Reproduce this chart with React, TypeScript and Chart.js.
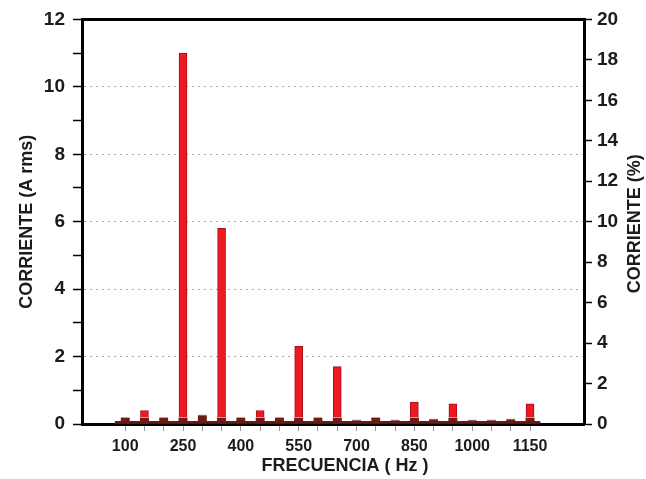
import React, { useEffect, useRef } from 'react';
import { Chart, registerables } from 'chart.js';

Chart.register(...registerables);

// Frequencies (Hz) of each harmonic position on the axis
const FREQS = [100, 150, 200, 250, 300, 350, 400, 450, 500, 550, 600, 650, 700, 750, 800, 850, 900, 950, 1000, 1050, 1100, 1150];
// Harmonic current (A rms) – red bars
const CURRENT_A = [null, 0.4, null, 11.0, null, 5.8, null, 0.4, null, 2.3, null, 1.7, null, null, null, 0.65, null, 0.6, null, null, null, 0.6];
// Small dark base blocks at each position (A rms)
const BASE_A = [0.2, 0.2, 0.2, 0.2, 0.27, 0.2, 0.2, 0.2, 0.2, 0.2, 0.2, 0.2, 0.12, 0.2, 0.12, 0.2, 0.15, 0.2, 0.12, 0.12, 0.15, 0.2];
// Floor band along the axis (A rms)
const FLOOR_A = [0.08, 0.08, 0.08, 0.08, 0.08, 0.08, 0.08, 0.08, 0.08, 0.08, 0.08, 0.08, 0.08, 0.08, 0.08, 0.08, 0.08, 0.08, 0.08, 0.08, 0.08, 0.08];
// Labelled x ticks
const X_LABELS = [100, 250, 400, 550, 700, 850, 1000, 1150];
const LEFT_LABELS = [0, 2, 4, 6, 8, 10, 12];

const FONT = '"Liberation Sans", Arial, sans-serif';
const TEXT = '#1c1c1c';

const titlesPlugin = {
  id: 'customTitles',
  afterDraw(chart: any) {
    const { ctx, chartArea } = chart;
    ctx.save();
    ctx.fillStyle = TEXT;
    ctx.font = `bold 18px ${FONT}`;
    ctx.textAlign = 'center';
    ctx.textBaseline = 'middle';
    // x title
    ctx.fillText('FRECUENCIA ( Hz )', (chartArea.left + chartArea.right) / 2 + 12, chartArea.bottom + 42);
    // right title, reading bottom-to-top
    ctx.translate(chart.width - 11, (chartArea.top + chartArea.bottom) / 2 + 2);
    ctx.rotate(-Math.PI / 2);
    ctx.fillText('CORRIENTE (%)', 0, 0);
    ctx.restore();
  },
};

export default function App() {
  const ref = useRef<HTMLCanvasElement>(null);

  useEffect(() => {
    if (!ref.current) return;
    const toPts = (arr: (number | null)[]) => FREQS.map((f, i) => ({ x: f, y: arr[i] }));
    const chart = new Chart(ref.current, {
      type: 'bar',
      data: {
        datasets: [
          {
            label: 'floor',
            data: toPts(FLOOR_A) as any,
            backgroundColor: '#6a1a14',
            borderWidth: 0,
            barThickness: 20,
            grouped: false,
            order: 0,
          },
          {
            label: 'base',
            data: toPts(BASE_A) as any,
            backgroundColor: '#6e1c16',
            borderColor: '#b8a6a6',
            borderWidth: { top: 1, left: 0, right: 0, bottom: 0 } as any,
            borderSkipped: 'bottom',
            barThickness: 9,
            grouped: false,
            order: 1,
          },
          {
            label: 'Corriente',
            data: toPts(CURRENT_A) as any,
            backgroundColor: '#ec1822',
            borderColor: '#a8101a',
            borderWidth: 1,
            barThickness: 8,
            grouped: false,
            order: 2,
          },
        ],
      },
      options: {
        responsive: false,
        animation: false,
        layout: { padding: 0 },
        plugins: { legend: { display: false }, tooltip: { enabled: false } },
        scales: {
          x: {
            type: 'linear',
            position: 'bottom',
            min: -12,
            max: 1290,
            offset: false,
            afterBuildTicks: (scale: any) => {
              scale.ticks = FREQS.map((v) => ({ value: v }));
            },
            afterFit: (scale: any) => {
              scale.height = 55;
            },
            ticks: {
              autoSkip: false,
              maxRotation: 0,
              minRotation: 0,
              padding: 6,
              color: TEXT,
              font: { family: FONT, size: 16, weight: 'bold' },
              callback: (v: any) => (X_LABELS.includes(Number(v)) ? String(v) : ''),
            },
            grid: {
              offset: false,
              drawOnChartArea: false,
              drawTicks: true,
              tickLength: 7,
              color: '#9a9a9a',
              lineWidth: 1,
            },
            border: { display: true, color: '#000', width: 3 },
          },
          xTop: {
            type: 'linear',
            position: 'top',
            min: -12,
            max: 1290,
            afterFit: (scale: any) => {
              scale.height = 17;
            },
            ticks: { display: false },
            grid: { display: false, drawTicks: false },
            border: { display: true, color: '#000', width: 3 },
          },
          y: {
            type: 'linear',
            position: 'left',
            min: 0,
            max: 12,
            afterFit: (scale: any) => {
              scale.width = 82;
            },
            ticks: {
              stepSize: 1,
              padding: 8,
              color: TEXT,
              font: { family: FONT, size: 19, weight: 'bold' },
              callback: (v: any) => (LEFT_LABELS.includes(Number(v)) ? String(v) : ''),
            },
            grid: {
              drawTicks: true,
              tickLength: 9,
              tickColor: '#000',
              tickWidth: 1.5,
              lineWidth: 1,
              color: (ctx: any) => {
                const v = ctx.tick ? ctx.tick.value : 0;
                return v > 0 && v < 12 && v % 2 === 0 ? 'rgba(150,130,160,0.75)' : 'rgba(0,0,0,0)';
              },
            },
            border: { display: true, color: '#000', width: 3, dash: [2, 4] },
            title: {
              display: true,
              text: 'CORRIENTE (A rms)',
              color: TEXT,
              font: { family: FONT, size: 18, weight: 'bold' },
              padding: { top: 16, bottom: 0 },
            },
          },
          y2: {
            type: 'linear',
            position: 'right',
            min: 0,
            max: 20,
            afterFit: (scale: any) => {
              scale.width = 62;
            },
            ticks: {
              stepSize: 2,
              padding: 5,
              color: TEXT,
              font: { family: FONT, size: 19, weight: 'bold' },
            },
            grid: {
              drawOnChartArea: false,
              drawTicks: true,
              tickLength: 8,
              tickColor: '#000',
              tickWidth: 1.5,
            },
            border: { display: true, color: '#000', width: 3 },
          },
        },
      },
      plugins: [titlesPlugin],
    });
    return () => chart.destroy();
  }, []);

  return (
    <div style={{ position: 'absolute', left: 0, top: 0, width: 646, height: 479, background: '#fff' }}>
      <canvas ref={ref} width={646} height={479} style={{ display: 'block' }} />
    </div>
  );
}
